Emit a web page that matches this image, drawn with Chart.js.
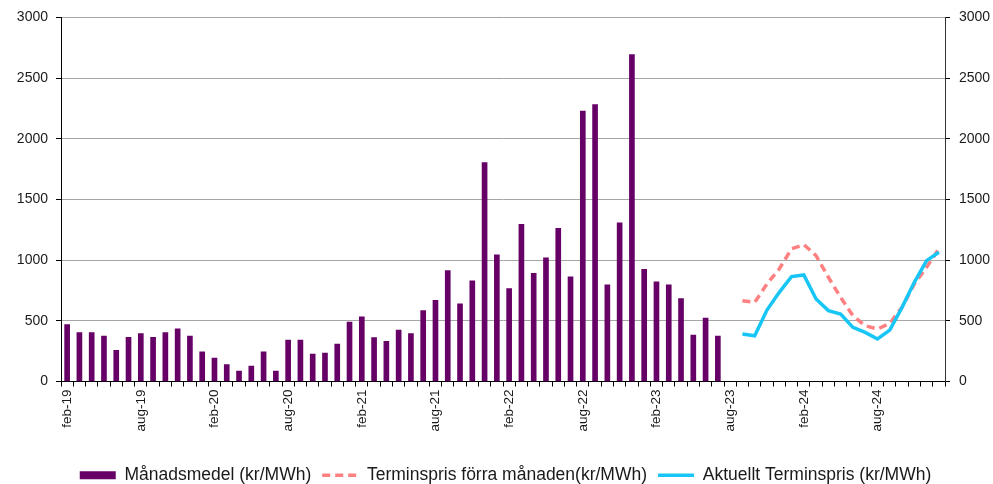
<!DOCTYPE html>
<html>
<head>
<meta charset="utf-8">
<script src="https://cdn.jsdelivr.net/npm/chart.js@4.4.1/dist/chart.umd.min.js"></script>
<style>
  html, body { margin: 0; padding: 0; background: #fff; }
  #wrap { width: 993px; height: 484px; }
</style>
</head>
<body>
<div id="wrap"><canvas id="priceChart" width="993" height="484"></canvas></div>
<script>
// months feb-19 .. jan-25
const months = [
  'feb-19','mar-19','apr-19','maj-19','jun-19','jul-19','aug-19','sep-19','okt-19','nov-19','dec-19',
  'jan-20','feb-20','mar-20','apr-20','maj-20','jun-20','jul-20','aug-20','sep-20','okt-20','nov-20','dec-20',
  'jan-21','feb-21','mar-21','apr-21','maj-21','jun-21','jul-21','aug-21','sep-21','okt-21','nov-21','dec-21',
  'jan-22','feb-22','mar-22','apr-22','maj-22','jun-22','jul-22','aug-22','sep-22','okt-22','nov-22','dec-22',
  'jan-23','feb-23','mar-23','apr-23','maj-23','jun-23','jul-23','aug-23','sep-23','okt-23','nov-23','dec-23',
  'jan-24','feb-24','mar-24','apr-24','maj-24','jun-24','jul-24','aug-24','sep-24','okt-24','nov-24','dec-24',
  'jan-25'
];

// monthly average, feb-19 .. jul-23
const monthlyAvg = [
  468, 404, 404, 375, 256, 363, 394, 363, 404, 435,
  375, 245, 193, 140, 86, 127, 245, 86, 342, 342,
  226, 234, 309, 490, 532, 361, 330, 424, 394, 584,
  669, 914, 639, 829, 1803, 1043, 765, 1296, 892, 1019,
  1263, 862, 2229, 2282, 796, 1308, 2694, 925, 821, 796,
  683, 383, 523, 375
];

// forward curve months, sep-23 .. jan-25
const forwardMonths = [
  'sep-23','okt-23','nov-23','dec-23','jan-24','feb-24','mar-24','apr-24','maj-24',
  'jun-24','jul-24','aug-24','sep-24','okt-24','nov-24','dec-24','jan-25'
];
const prevForward = [666, 652, 804, 928, 1093, 1128, 1037, 859, 693, 542, 460, 432, 479, 611, 804, 941, 1093];
const currentForward = [391, 377, 589, 735, 864, 878, 680, 584, 556, 446, 405, 350, 424, 611, 817, 996, 1065];

const yTicks = [0, 500, 1000, 1500, 2000, 2500, 3000];

const FONT = '"Liberation Sans", Arial, sans-serif';
const TXT = '#1a1a1a';

const datasets = [
  {
    type: 'bar',
    label: 'Månadsmedel (kr/MWh)',
    data: monthlyAvg,
    backgroundColor: '#660066',
    borderWidth: 0,
    barThickness: 5,
    yAxisID: 'y',
    order: 3
  },
  {
    type: 'line',
    label: 'Terminspris förra månaden(kr/MWh)',
    data: forwardMonths.map((m, i) => ({ x: m, y: prevForward[i] })),
    borderColor: '#ff8080',
    borderWidth: 3.5,
    borderDash: [8, 5],
    pointRadius: 0,
    tension: 0,
    fill: false,
    yAxisID: 'y',
    order: 2
  },
  {
    type: 'line',
    label: 'Aktuellt Terminspris (kr/MWh)',
    data: forwardMonths.map((m, i) => ({ x: m, y: currentForward[i] })),
    borderColor: '#18c6f5',
    borderWidth: 3.5,
    pointRadius: 0,
    tension: 0,
    fill: false,
    yAxisID: 'y',
    order: 1
  }
];

const plainNum = (v) => String(v);

// nudge the legend a bit to the right, like the original
const legendShift = {
  id: 'legendShift',
  afterLayout(chart) {
    chart.legend.left += 9;
    chart.legend.right += 9;
  }
};

new Chart(document.getElementById('priceChart'), {
  type: 'bar',
  data: { labels: months, datasets: datasets },
  plugins: [legendShift],
  options: {
    responsive: false,
    animation: false,
    layout: { padding: { top: 17, left: 0, right: 0, bottom: -10 } },
    plugins: {
      tooltip: { enabled: false },
      legend: {
        position: 'bottom',
        labels: {
          usePointStyle: true,
          pointStyleWidth: 36,
          boxHeight: 8,
          padding: 11,
          color: TXT,
          font: { family: FONT, size: 17.5 },
          generateLabels: (chart) => chart.data.datasets.map((ds, i) => ({
            text: ds.label,
            datasetIndex: i,
            fillStyle: ds.type === 'bar' ? ds.backgroundColor : 'rgba(0,0,0,0)',
            strokeStyle: ds.type === 'bar' ? ds.backgroundColor : ds.borderColor,
            lineWidth: ds.type === 'bar' ? 0 : ds.borderWidth,
            lineDash: ds.borderDash || [],
            pointStyle: ds.type === 'bar' ? 'rect' : 'line',
            fontColor: TXT,
            hidden: false
          }))
        }
      }
    },
    scales: {
      x: {
        type: 'category',
        offset: true,
        grid: { offset: true, drawOnChartArea: false, drawTicks: true, tickLength: 5, tickColor: '#000' },
        border: { color: '#000', width: 1 },
        ticks: {
          autoSkip: false,
          minRotation: 90,
          maxRotation: 90,
          padding: 3,
          color: TXT,
          font: { family: FONT, size: 13.5 },
          callback: (v, i) => (i % 6 === 0 ? months[i] : '')
        },
        afterFit: (s) => { s.height = 74; }
      },
      y: {
        position: 'left',
        min: 0,
        max: 3000,
        afterBuildTicks: (s) => { s.ticks = yTicks.map(v => ({ value: v })); },
        grid: { color: '#a6a6a6', lineWidth: 1, tickLength: 5, tickColor: '#000' },
        border: { color: '#000', width: 1 },
        ticks: { padding: 8, color: TXT, font: { family: FONT, size: 14 }, callback: plainNum },
        afterFit: (s) => { s.width = 61; }
      },
      y2: {
        position: 'right',
        min: 0,
        max: 3000,
        afterBuildTicks: (s) => { s.ticks = yTicks.map(v => ({ value: v })); },
        grid: { drawOnChartArea: false, tickLength: 5, tickColor: '#000' },
        border: { color: '#333', width: 1 },
        ticks: { padding: 9, color: TXT, font: { family: FONT, size: 14 }, callback: plainNum },
        afterFit: (s) => { s.width = 48; }
      }
    }
  }
});
</script>
</body>
</html>
